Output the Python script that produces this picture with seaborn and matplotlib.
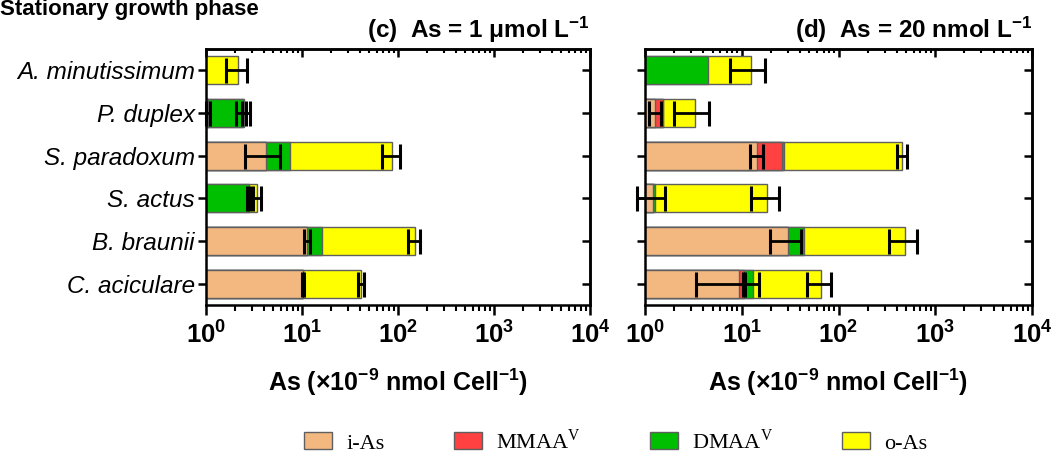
import matplotlib
matplotlib.use("Agg")
import matplotlib.pyplot as plt
import seaborn as sns
import numpy as np
from matplotlib.patches import Patch

species = ["A. minutissimum", "P. duplex", "S. paradoxum", "S. actus", "B. braunii", "C. aciculare"]
forms = ["i-As", "MMAA", "DMAA", "o-As"]
legend_labels = ["i-As", r"MMAA$^{\mathrm{V}}$", r"DMAA$^{\mathrm{V}}$", "o-As"]
colors = ["#F2B880", "#FF4141", "#00BF00", "#FFFF00"]

# (c) As = 1 umol/L  -- per-species amounts of each form (x1e-9 nmol/cell)
c_ias = [0, 1.05, 4.22, 0, 11.4, 10.3]
c_mmaa = [0, 0, 0, 0, 0, 0]
c_dmaa = [0, 1.40, 3.28, 2.78, 4.6, 0]
c_oas = [2.14, 0.06, 79.1, 0.64, 133, 31.2]
c_ias_sd = [0, 0.06, 1.7, 0, 0.8, 0.3]
c_mmaa_sd = [0, 0, 0, 0, 0, 0]
c_dmaa_sd = [0, 0.4, 0, 0.1, 0, 0]
c_oas_sd = [0.54, 0.12, 19, 0.3, 21, 3]

# (d) As = 20 nmol/L
d_ias = [0, 1.27, 14.5, 1.22, 30.3, 9.29]
d_mmaa = [0, 0.26, 11.4, 0, 0, 1.2]
d_dmaa = [4.48, 0, 1.6, 0.06, 13.7, 2.5]
d_oas = [8.0, 1.76, 429.5, 17.1, 446, 52.4]
d_ias_sd = [0, 0.18, 2.2, 0.4, 10.5, 5.9]
d_mmaa_sd = [0, 0, 0, 0, 0, 0.3]
d_dmaa_sd = [0, 0, 0, 0, 0, 0]
d_oas_sd = [4.9, 1.3, 57, 6, 154, 18]

sns.set_theme(style="ticks")
plt.rcParams["font.family"] = ["Liberation Sans", "DejaVu Sans"]
plt.rcParams["mathtext.fontset"] = "custom"
plt.rcParams["mathtext.rm"] = "Liberation Serif"
plt.rcParams["mathtext.bf"] = "Liberation Sans:bold"
plt.rcParams["mathtext.it"] = "Liberation Sans:italic"
for key in ["text.color", "axes.labelcolor", "xtick.color", "ytick.color", "axes.edgecolor"]:
    plt.rcParams[key] = "black"


def stacked_panel(ax, parts, sds, title):
    cum = np.cumsum(np.array(parts, dtype=float), axis=0)
    # overlay cumulative bars, longest first
    for k in range(len(forms) - 1, -1, -1):
        sns.barplot(x=cum[k], y=species, order=species, orient="h", color=colors[k],
                    saturation=1, edgecolor="#5f5f5f", linewidth=1, width=0.65,
                    errorbar=None, ax=ax)
    ax.set_xscale("log")
    ax.set_xlim(1, 1e4)
    ax.set_ylim(5.5, -0.5)
    for k in range(len(forms)):
        sd = np.array(sds[k], dtype=float)
        m = sd > 0
        ax.errorbar(cum[k][m], np.arange(len(species))[m], xerr=sd[m], fmt="none",
                    ecolor="black", elinewidth=2, capsize=9, capthick=2.2, clip_on=False, zorder=5)
    ax.set_xticks([1, 10, 100, 1000, 10000],
                  [r"$\mathbf{10^{%d}}$" % i for i in range(5)], fontsize=18.5)
    ax.tick_params(axis="x", which="major", direction="out", length=7, width=1.8, pad=5)
    ax.tick_params(axis="x", which="minor", direction="out", length=4, width=1.5)
    ax.tick_params(axis="y", direction="out", length=6, width=1.8, pad=2)
    for s in ax.spines.values():
        s.set_linewidth(1.8)
        s.set_color("black")
    ax.set_xlabel(r"As (×10$^{\mathbf{-9}}$ nmol Cell$^{\mathbf{-1}}$)",
                  fontsize=18, fontweight="bold", labelpad=13)
    ax.set_ylabel("")
    ax.set_title(title, loc="right", fontsize=17.5, fontweight="bold", pad=8)
    top = ax.secondary_xaxis("top")
    top.tick_params(axis="x", which="major", direction="in", length=6, width=1.8,
                    labeltop=False, labelbottom=False)
    top.tick_params(axis="x", which="minor", direction="in", length=3, width=1.5)
    right = ax.secondary_yaxis("right")
    right.set_yticks(np.arange(len(species)))
    right.tick_params(axis="y", direction="in", length=6, width=1.8,
                      labelright=False, labelleft=False)
    for sa in (top, right):
        for s in sa.spines.values():
            s.set_linewidth(1.8)


fig = plt.figure(figsize=(10.53, 4.53), dpi=100)
ax_c = fig.add_axes([0.1956, 0.3267, 0.3647, 0.5651])
ax_d = fig.add_axes([0.6125, 0.3267, 0.3676, 0.5651])

stacked_panel(ax_c, [c_ias, c_mmaa, c_dmaa, c_oas],
              [c_ias_sd, c_mmaa_sd, c_dmaa_sd, c_oas_sd],
              r"(c)  As = 1 μmol L$^{\mathbf{-1}}$")
stacked_panel(ax_d, [d_ias, d_mmaa, d_dmaa, d_oas],
              [d_ias_sd, d_mmaa_sd, d_dmaa_sd, d_oas_sd],
              r"(d)  As = 20 nmol L$^{\mathbf{-1}}$")

ax_c.set_yticks(np.arange(len(species)), species, fontsize=17.5, fontstyle="italic")
ax_d.tick_params(axis="y", labelleft=False)

fig.text(0.0, 1 - 15 / 453, "Stationary growth phase", fontsize=16, fontweight="bold",
         ha="left", va="baseline")

handles = [Patch(facecolor=c, edgecolor="#5f5f5f", linewidth=1) for c in colors]
fig.legend(handles, legend_labels, loc="center", bbox_to_anchor=(0.585, 0.026), ncol=4,
           frameon=False, prop={"family": "Liberation Serif", "size": 16},
           handlelength=1.25, handleheight=0.8, handletextpad=0.65, columnspacing=3.1)

fig.savefig("out.png", dpi=100)
